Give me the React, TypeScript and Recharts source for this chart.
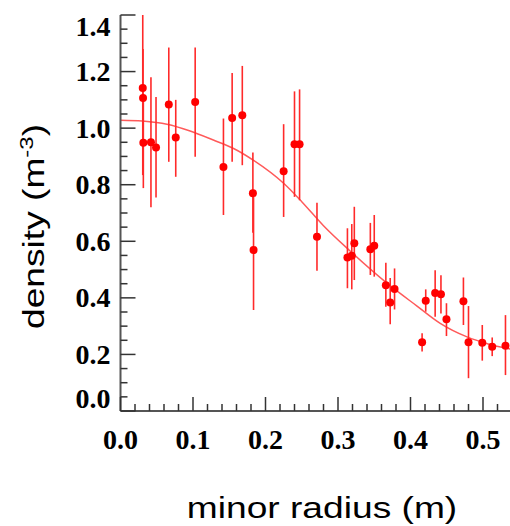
import React from 'react';
import {
  ComposedChart,
  Scatter,
  Line,
  XAxis,
  YAxis,
  ErrorBar,
} from 'recharts';

// measured profile points
const radius = [
  0.0307, 0.0311, 0.0315, 0.042, 0.049, 0.0666, 0.0762, 0.103, 0.142, 0.154,
  0.168, 0.1826, 0.1835, 0.225, 0.24, 0.247, 0.271, 0.313, 0.319, 0.3225,
  0.3446, 0.35, 0.366, 0.372, 0.378, 0.416, 0.421, 0.434, 0.442, 0.4496,
  0.473, 0.48, 0.499, 0.5127, 0.531,
];
const density = [
  1.142, 1.107, 0.948, 0.95, 0.932, 1.084, 0.967, 1.092, 0.863, 1.036,
  1.046, 0.77, 0.569, 0.848, 0.943, 0.943, 0.616, 0.543, 0.549, 0.593,
  0.572, 0.584, 0.445, 0.384, 0.431, 0.243, 0.39, 0.417, 0.413, 0.324,
  0.388, 0.243, 0.241, 0.227, 0.231,
];
const densityLow = [
  0.834, 0.93, 0.788, 0.72, 0.755, 0.881, 0.828, 0.899, 0.693, 0.881,
  0.869, 0.63, 0.357, 0.686, 0.757, 0.745, 0.496, 0.434, 0.43, 0.463,
  0.481, 0.475, 0.369, 0.307, 0.359, 0.21, 0.351, 0.333, 0.345, 0.265,
  0.304, 0.116, 0.178, 0.194, 0.127,
];
const densityHigh = [
  1.4, 1.28, 1.1, 1.18, 1.11, 1.285, 1.1, 1.285, 1.034, 1.195,
  1.22, 0.914, 0.78, 1.014, 1.13, 1.137, 0.736, 0.646, 0.661, 0.722,
  0.665, 0.693, 0.524, 0.47, 0.504, 0.275, 0.43, 0.498, 0.48, 0.381,
  0.472, 0.371, 0.304, 0.26, 0.339,
];

// fitted profile
const fitRadius = [
  0, 0.03, 0.064, 0.096, 0.128, 0.156, 0.183, 0.225, 0.25, 0.28, 0.317,
  0.368, 0.409, 0.441, 0.478, 0.506, 0.54,
];
const fitDensity = [
  1.028, 1.025, 1.014, 0.99, 0.958, 0.928, 0.887, 0.805, 0.74, 0.655, 0.565,
  0.451, 0.371, 0.31, 0.262, 0.238, 0.218,
];

const xTicks = [
  0, 0.02, 0.04, 0.06, 0.08, 0.1, 0.12, 0.14, 0.16, 0.18, 0.2, 0.22, 0.24,
  0.26, 0.28, 0.3, 0.32, 0.34, 0.36, 0.38, 0.4, 0.42, 0.44, 0.46, 0.48, 0.5,
  0.52,
];
const yTicks = [
  0, 0.05, 0.1, 0.15, 0.2, 0.25, 0.3, 0.35, 0.4, 0.45, 0.5, 0.55, 0.6, 0.65,
  0.7, 0.75, 0.8, 0.85, 0.9, 0.95, 1.0, 1.05, 1.1, 1.15, 1.2, 1.25, 1.3, 1.35,
  1.4,
];
const yMajorTicks = [0, 0.2, 0.4, 0.6, 0.8, 1.0, 1.2, 1.4];

const points = radius.map((r, i) => ({
  x: r,
  y: density[i],
  err: [density[i] - densityLow[i], densityHigh[i] - density[i]],
}));
const fit = fitRadius.map((r, i) => ({ x: r, y: fitDensity[i] }));

const isMajor = (v: number, step: number) =>
  Math.abs(v / step - Math.round(v / step)) < 1e-6;

const TICK_COLOR = '#333';
const labelFont = {
  fontFamily: '"Liberation Serif", "Times New Roman", serif',
  fontWeight: 700,
  fontSize: 28,
  fill: '#000',
};

const BottomTick = ({ x, y, payload }: any) => {
  const major = isMajor(payload.value, 0.1);
  return (
    <g>
      <line x1={x} x2={x} y1={y} y2={y - (major ? 14 : 7)} stroke={TICK_COLOR} strokeWidth={1.5} />
      {major && (
        <text x={x} y={y + 38} textAnchor="middle" {...labelFont}>
          {payload.value.toFixed(1)}
        </text>
      )}
    </g>
  );
};

const TopTick = ({ x, y, payload }: any) => {
  const major = isMajor(payload.value, 0.1);
  return <line x1={x} x2={x} y1={y} y2={y + (major ? 15 : 7)} stroke={TICK_COLOR} strokeWidth={1.5} />;
};

const LeftTick = ({ x, y, payload }: any) => {
  const v = payload.value;
  const major = isMajor(v, 0.2);
  // end labels are pulled inside the frame
  let shift = 0;
  if (v === 0) shift = -13;
  if (v === 1.4) shift = 11;
  return (
    <g>
      <line x1={x} x2={x + (major ? 15 : 7)} y1={y} y2={y} stroke={TICK_COLOR} strokeWidth={1.5} />
      {major && (
        <text x={x - 10} y={y + shift + 9.5} textAnchor="end" {...labelFont}>
          {v.toFixed(1)}
        </text>
      )}
    </g>
  );
};

const RightTick = ({ x, y }: any) => (
  <line x1={x} x2={x - 7} y1={y} y2={y} stroke={TICK_COLOR} strokeWidth={1.5} />
);

const sansFont = '"Liberation Sans", Arial, sans-serif';

// titles in the original are a little stretched along the reading direction
const YTitle = () => (
  <text
    x={0}
    y={0}
    transform="translate(43.5, 226.5) rotate(-90) scale(1.26, 1)"
    textAnchor="middle"
    fontFamily={sansFont}
    fontSize={29.5}
    fill="#000"
  >
    density (m<tspan dy={-11} fontSize={19}>-3</tspan>
    <tspan dy={11}>)</tspan>
  </text>
);

const XTitle = () => (
  <text
    x={0}
    y={0}
    transform="translate(322, 518) scale(1.26, 1)"
    textAnchor="middle"
    fontFamily={sansFont}
    fontSize={29.5}
    fill="#000"
  >
    minor radius (m)
  </text>
);

const Dot = ({ cx, cy }: any) => <circle cx={cx} cy={cy} r={4} fill="#ff0000" />;

export default function App() {
  return (
    <div style={{ position: 'absolute', left: 0, top: 0, background: '#fff' }}>
      <ComposedChart
        width={512}
        height={526}
        margin={{ top: 15, right: 0, bottom: 0, left: 0 }}
      >
        <XAxis
          xAxisId="bottom"
          type="number"
          dataKey="x"
          domain={[0, 0.54]}
          ticks={xTicks}
          interval={0}
          height={115}
          tickSize={0}
          tickMargin={0}
          tickLine={false}
          axisLine={{ stroke: '#555', strokeWidth: 2 }}
          tick={<BottomTick />}
          label={{ content: <XTitle /> }}
          allowDataOverflow
        />
        <XAxis
          xAxisId="top"
          orientation="top"
          type="number"
          dataKey="x"
          domain={[0, 0.54]}
          ticks={xTicks}
          interval={0}
          height={0}
          tickSize={0}
          tickMargin={0}
          tickLine={false}
          axisLine={{ stroke: '#555', strokeWidth: 2 }}
          tick={<TopTick />}
          allowDataOverflow
        />
        <YAxis
          yAxisId="left"
          type="number"
          dataKey="y"
          domain={[0, 1.4]}
          ticks={yTicks}
          interval={0}
          width={120.5}
          tickSize={0}
          tickMargin={0}
          tickLine={false}
          axisLine={{ stroke: '#555', strokeWidth: 2 }}
          tick={<LeftTick />}
          label={{ content: <YTitle /> }}
          allowDataOverflow
        />
        <YAxis
          yAxisId="right"
          orientation="right"
          type="number"
          domain={[0, 1.4]}
          ticks={yMajorTicks}
          interval={0}
          width={0}
          tickSize={0}
          tickMargin={0}
          tickLine={false}
          axisLine={{ stroke: '#555', strokeWidth: 2 }}
          tick={<RightTick />}
          allowDataOverflow
        />
        <Line
          xAxisId="bottom"
          yAxisId="left"
          data={fit}
          dataKey="y"
          type="monotone"
          stroke="#ff5a5a"
          strokeWidth={1.5}
          dot={false}
          activeDot={false}
          isAnimationActive={false}
        />
        <Scatter
          xAxisId="bottom"
          yAxisId="left"
          data={points}
          dataKey="y"
          shape={<Dot />}
          isAnimationActive={false}
        >
          <ErrorBar dataKey="err" direction="y" width={0} stroke="#ff2a2a" strokeWidth={1.6} />
        </Scatter>
      </ComposedChart>
    </div>
  );
}
